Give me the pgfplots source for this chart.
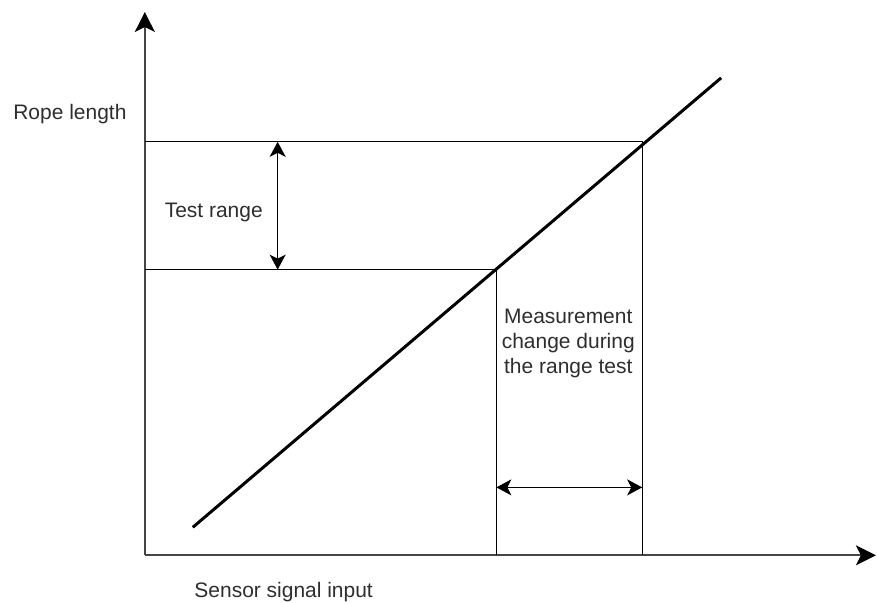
\documentclass[border=0pt]{standalone}
\usepackage{pgfplots}
\pgfplotsset{compat=1.18}
\usepackage{fontspec}
\setmainfont{Liberation Sans}
\usetikzlibrary{arrows.meta}
\definecolor{axcol}{HTML}{454545}
\definecolor{thin}{HTML}{6A6A6A}
\definecolor{txt}{HTML}{2E2E2E}
\tikzset{lbl/.style={font=\fontsize{21bp}{25bp}\selectfont, text=txt, inner sep=0pt}}
\begin{document}
\begin{tikzpicture}
\begin{axis}[
  x=1bp, y=1bp,
  xmin=0, xmax=877, ymin=0, ymax=603,
  hide axis, clip=false,
]
% bounding frame
\addplot[draw=none] coordinates {(0,0) (877,603)};
% axes (y = 603 - pixel row)
\addplot[axcol, line width=2.2bp, -{Stealth[length=20bp,width=20bp,inset=5bp,color=black]}] coordinates {(145,47) (145,591)};
\addplot[axcol, line width=2.2bp, -{Stealth[length=20bp,width=20bp,inset=5bp,color=black]}] coordinates {(145,47) (877,47)};
% thin guide lines
\addplot[thin, line width=1.2bp] coordinates {(145,461) (643,461) (643,47)};
\addplot[thin, line width=1.2bp] coordinates {(145,333) (497,333) (497,47)};
% main line
\addplot[black, line width=3bp] coordinates {(193,75) (722,525)};
% double arrows
\addplot[black, line width=1.6bp, {Stealth[length=15bp,width=16bp,inset=4bp]}-{Stealth[length=15bp,width=16bp,inset=4bp]}] coordinates {(278,461) (278,333)};
\addplot[black, line width=1.6bp, {Stealth[length=15bp,width=16bp,inset=4bp]}-{Stealth[length=15bp,width=16bp,inset=4bp]}] coordinates {(497,115) (643,115)};
% texts
\node[lbl] at (axis cs:70,489) {Rope length};
\node[lbl] at (axis cs:214,390) {Test range};
\node[lbl, align=center] at (axis cs:569,259) {Measurement\\change during\\the range test};
\node[lbl] at (axis cs:284,10) {Sensor signal input};
\end{axis}
\end{tikzpicture}
\end{document}
